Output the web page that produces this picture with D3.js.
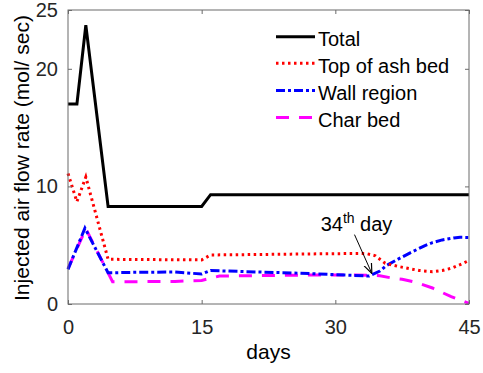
<!DOCTYPE html>
<html lang="en">
<head>
  <meta charset="UTF-8">
  <title>Injected air flow rate</title>
  <style>
    body { margin: 0; background: #fff; }
    svg { display: block; font-family: "Liberation Sans", Arial, sans-serif; }
  </style>
</head>
<body>
<svg id="chart" width="483" height="373"></svg>

<script src="https://cdn.jsdelivr.net/npm/d3@7"></script>
<script>
// data
var xTicks = [0, 15, 30, 45];
var yTicks = [0, 10, 20, 25];

var totalDays = [0, 1, 2, 4.5, 15, 16, 45];
var totalVals = [17, 17, 23.7, 8.3, 8.3, 9.3, 9.3];

var ashDays = [0, 1, 2, 4.5, 15, 16, 20, 25, 30, 33.4, 34.5, 35.6, 37.2, 39.4, 40.9, 42, 43.1, 44, 45];
var ashVals = [11.1, 8.7, 10.8, 3.8, 3.75, 4.17, 4.2, 4.24, 4.28, 4.3, 4.1, 3.46, 3.17, 2.85, 2.75, 2.85, 3.06, 3.35, 3.7];

var wallDays = [0, 1.9, 4.5, 8, 12, 15, 16, 20, 26, 30, 33.8, 35, 35.7, 37, 38.4, 40, 40.9, 42, 43.3, 44, 45];
var wallVals = [2.95, 6.45, 2.65, 2.7, 2.72, 2.55, 2.85, 2.75, 2.62, 2.5, 2.38, 2.8, 3.25, 3.8, 4.35, 4.95, 5.22, 5.45, 5.62, 5.67, 5.66];

var charDays = [0, 2, 5, 8, 12, 15, 17, 20, 25, 30, 34, 35, 36.4, 37.5, 39, 40.9, 43, 45];
var charVals = [3.0, 6.4, 1.9, 1.9, 1.92, 2.0, 2.38, 2.4, 2.45, 2.47, 2.45, 2.4, 2.2, 2.1, 1.85, 1.36, 0.62, 0.05];

var names = ["Total", "Top of ash bed", "Wall region", "Char bed"];

var svg = d3.select("#chart");
var x = d3.scaleLinear().domain([0, 45]).range([68, 469]);
var y = d3.scaleLinear().domain([0, 25]).range([304, 10]);

var series = [
  {name: names[0], days: totalDays, vals: totalVals, color: "#000000", dash: null, w: 3},
  {name: names[1], days: ashDays, vals: ashVals, color: "#ff0000", dash: "2.5,3.5", w: 3},
  {name: names[2], days: wallDays, vals: wallVals, color: "#0000ff", dash: "9,3,3,3", w: 3},
  {name: names[3], days: charDays, vals: charVals, color: "#ff00ff", dash: "13,10", w: 3}
];

var line = d3.line()
  .x(function (d) { return x(d[0]); })
  .y(function (d) { return y(d[1]); });

// lines (draw in reverse so Total is on top)
series.slice().reverse().forEach(function (s) {
  var pts = s.days.map(function (d, i) { return [d, s.vals[i]]; });
  svg.append("path")
    .attr("d", line(pts))
    .attr("fill", "none")
    .attr("stroke", s.color)
    .attr("stroke-width", s.w)
    .attr("stroke-dasharray", s.dash);
});

// axes box with inward ticks on all sides
var axisColor = "#6b6b6b";
var tickLen = 4;
function styleAxis(g) {
  g.select(".domain").remove();
  g.selectAll(".tick line").attr("stroke", axisColor);
  g.selectAll(".tick text").attr("fill", "#262626").style("font-size", "20px");
}
svg.append("g").attr("transform", "translate(0," + y(0) + ")")
  .call(d3.axisBottom(x).tickValues(xTicks).tickSizeInner(-tickLen).tickPadding(16))
  .call(styleAxis);
svg.append("g").attr("transform", "translate(0," + y(25) + ")")
  .call(d3.axisTop(x).tickValues(xTicks).tickSizeInner(-tickLen).tickFormat(""))
  .call(styleAxis);
svg.append("g").attr("transform", "translate(" + x(0) + ",0)")
  .call(d3.axisLeft(y).tickValues(yTicks).tickSizeInner(-tickLen).tickPadding(10))
  .call(styleAxis);
svg.append("g").attr("transform", "translate(" + x(45) + ",0)")
  .call(d3.axisRight(y).tickValues(yTicks).tickSizeInner(-tickLen).tickFormat(""))
  .call(styleAxis);

svg.append("rect")
  .attr("x", x(0)).attr("y", y(25))
  .attr("width", x(45) - x(0)).attr("height", y(0) - y(25))
  .attr("fill", "none").attr("stroke", axisColor).attr("stroke-width", 1);

// axis labels
svg.append("text")
  .attr("x", (x(0) + x(45)) / 2).attr("y", 359)
  .attr("text-anchor", "middle")
  .style("font-size", "21px").attr("fill", "#000")
  .text("days");

svg.append("text")
  .attr("transform", "translate(29," + 158 + ") rotate(-90)")
  .attr("text-anchor", "middle")
  .style("font-size", "21px").attr("fill", "#000")
  .text("Injected air flow rate (mol/ sec)");

// legend
var legY = [36.7, 63.3, 90.5, 117.5];
series.forEach(function (s, i) {
  svg.append("line")
    .attr("x1", 276).attr("x2", 315)
    .attr("y1", legY[i]).attr("y2", legY[i])
    .attr("stroke", s.color).attr("stroke-width", s.w)
    .attr("stroke-dasharray", s.dash);
  svg.append("text")
    .attr("x", 318).attr("y", legY[i] + 9.5)
    .style("font-size", "20px").attr("fill", "#000")
    .text(s.name);
});

// annotation "34th day"
var note = {textDay: 28.35, textVal: 6.2, fromDay: 32.15, fromVal: 5.9, toDay: 34.1, toVal: 2.6};
var t = svg.append("text")
  .attr("x", x(note.textDay)).attr("y", y(note.textVal))
  .style("font-size", "20px").attr("fill", "#000");
t.append("tspan").text("34");
t.append("tspan").attr("dy", -8).style("font-size", "14px").text("th");
t.append("tspan").attr("dy", 8).text(" day");

svg.append("defs").append("marker")
  .attr("id", "arr").attr("viewBox", "0 0 10 10")
  .attr("refX", 10).attr("refY", 5)
  .attr("markerWidth", 10).attr("markerHeight", 10)
  .attr("markerUnits", "userSpaceOnUse")
  .attr("orient", "auto")
  .append("path").attr("d", "M0,1 L10,5 L0,9").attr("fill", "none").attr("stroke", "#000").attr("stroke-width", 1.2);

svg.append("line")
  .attr("x1", x(note.fromDay)).attr("y1", y(note.fromVal))
  .attr("x2", x(note.toDay)).attr("y2", y(note.toVal))
  .attr("stroke", "#000").attr("stroke-width", 1)
  .attr("marker-end", "url(#arr)");
</script>
</body>
</html>
